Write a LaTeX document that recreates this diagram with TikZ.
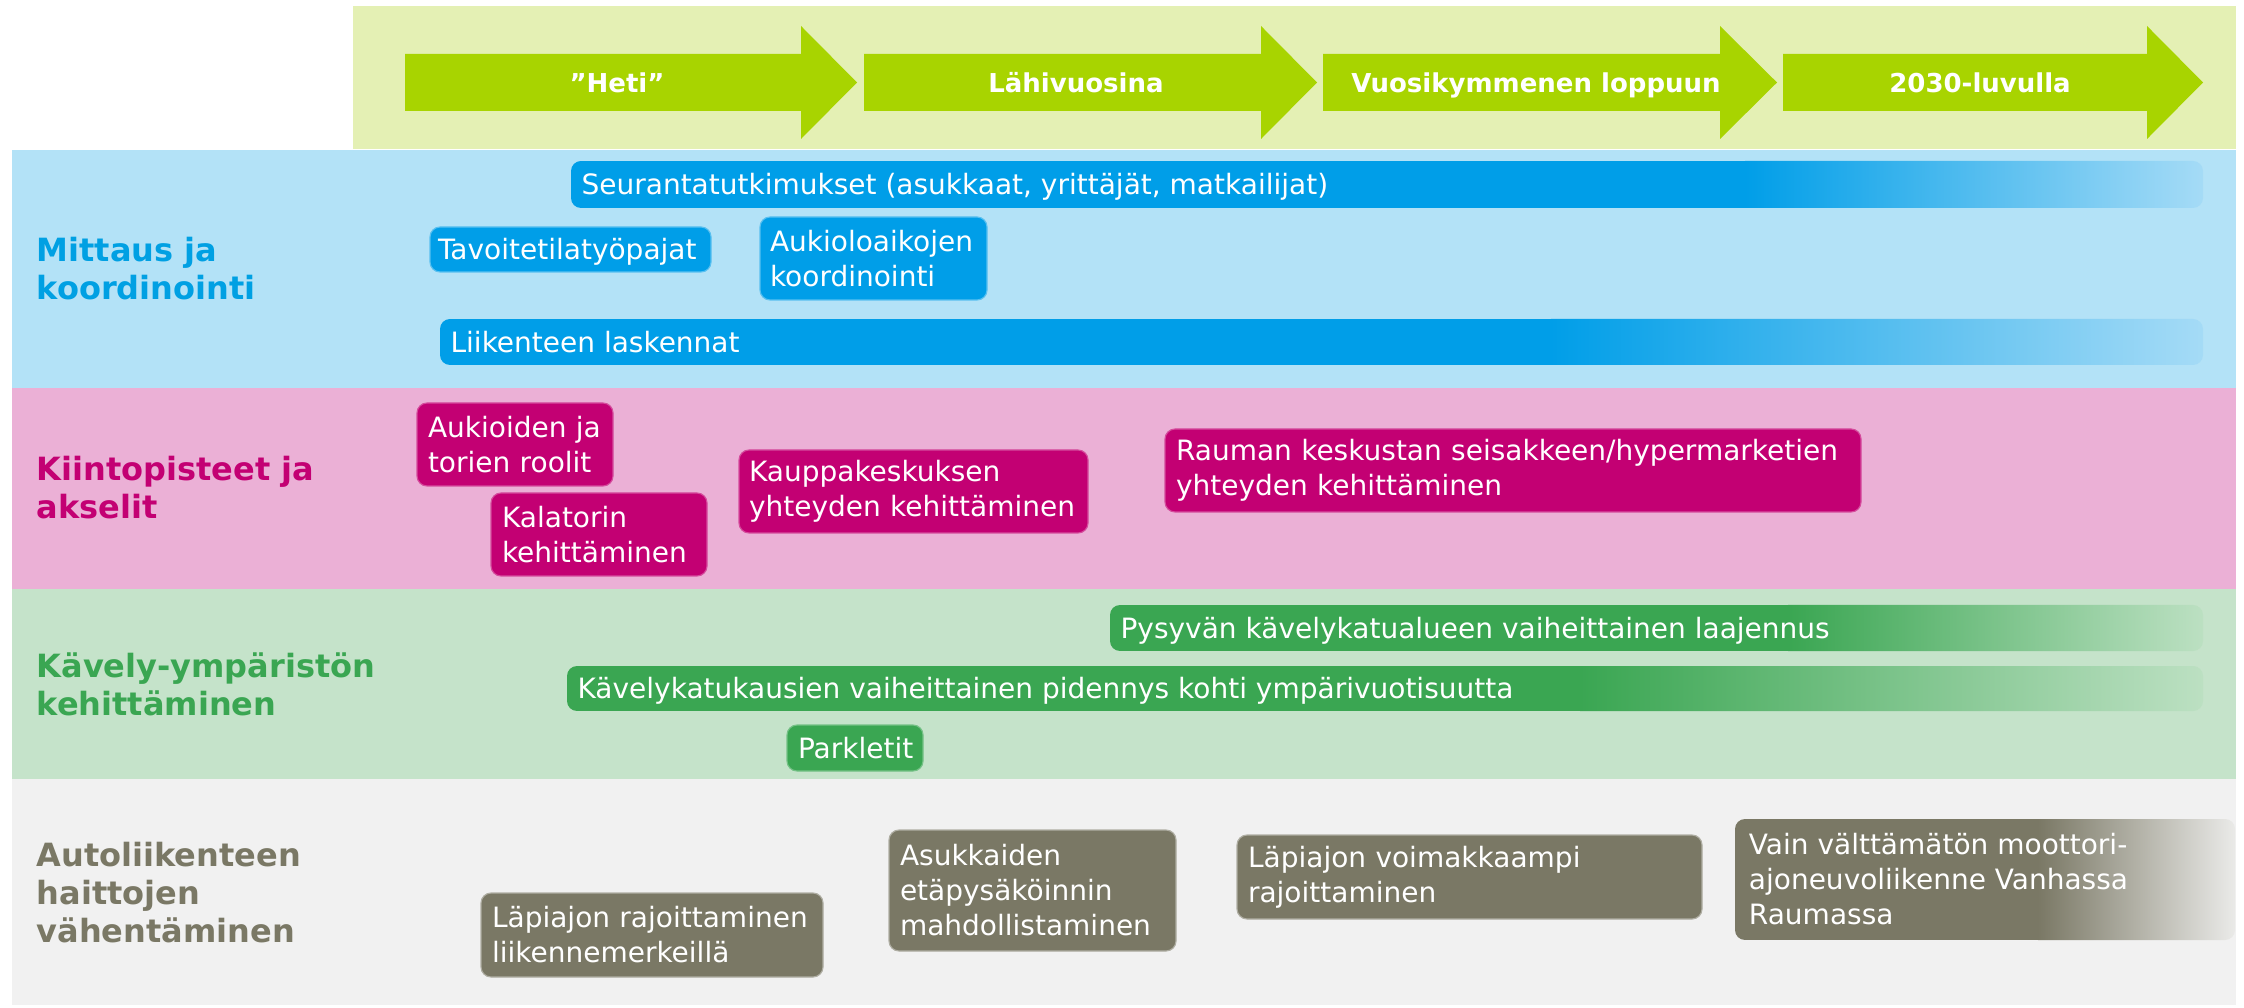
\documentclass[tikz,border=0pt]{standalone}
\usepackage{fontspec}
\setmainfont{DejaVu Sans}
\hyphenpenalty=10000
\exhyphenpenalty=10000
\definecolor{bandtop}{RGB}{228,240,180}
\definecolor{arrowgreen}{RGB}{168,212,0}
\definecolor{bandblue}{RGB}{179,226,247}
\definecolor{bandpink}{RGB}{235,176,214}
\definecolor{bandgreen}{RGB}{197,227,202}
\definecolor{bandgray}{RGB}{241,241,241}
\definecolor{cblue}{RGB}{0,158,232}
\definecolor{cpink}{RGB}{195,0,115}
\definecolor{cgreen}{RGB}{58,166,82}
\definecolor{cgray}{RGB}{122,120,101}
\definecolor{lblblue}{RGB}{0,160,227}
\definecolor{blueend}{RGB}{165,219,246}
\definecolor{greenend}{RGB}{188,224,194}
\definecolor{grayend}{RGB}{234,234,232}
\begin{document}
\begin{tikzpicture}[x=0.3pt,y=-0.3pt,
  boxtxt/.style={font=\fontsize{8.4}{10.5}\selectfont, text=white, align=left,
    inner xsep=3.3pt, inner ysep=0pt, rounded corners=3pt, line width=0.35pt},
  oneline/.style={text height=8pt, text depth=1.9pt},
  bluebox/.style={boxtxt, fill=cblue, draw=cblue!65!white},
  pinkbox/.style={boxtxt, fill=cpink, draw=cpink!70!white},
  greenbox/.style={boxtxt, fill=cgreen, draw=cgreen!70!white},
  graybox/.style={boxtxt, fill=cgray, draw=cgray!60!white},
  lbl/.style={font=\fontsize{9.6}{11.4}\selectfont\bfseries, align=left,
    anchor=west, inner sep=0pt},
  arrtxt/.style={font=\fontsize{7.8}{9.4}\selectfont\bfseries, text=white, inner sep=0pt,
    text height=7.5pt, text depth=1.8pt},
  arrowshape/.style={fill=arrowgreen},
]
\useasboundingbox (0,0) rectangle (2244,1008);
\fill[white] (0,0) rectangle (2244,1008);
% bands
\fill[bandtop] (353,6) rectangle (2236,149);
\fill[bandblue] (12,150) rectangle (2236,388);
\fill[bandpink] (12,388) rectangle (2236,589);
\fill[bandgreen] (12,589) rectangle (2236,779);
\fill[bandgray] (12,779) rectangle (2236,1005);
% timeline arrows
\fill[arrowshape] (405,54) -- (801,54) -- (801,26) -- (857,82.5) -- (801,139) -- (801,111) -- (405,111) -- cycle;
\fill[arrowshape] (864,54) -- (1261,54) -- (1261,26) -- (1317,82.5) -- (1261,139) -- (1261,111) -- (864,111) -- cycle;
\fill[arrowshape] (1323,54) -- (1720,54) -- (1720,26) -- (1777,82.5) -- (1720,139) -- (1720,111) -- (1323,111) -- cycle;
\fill[arrowshape] (1783,54) -- (2147,54) -- (2147,26) -- (2203,82.5) -- (2147,139) -- (2147,111) -- (1783,111) -- cycle;
\node[arrtxt] (heti) at (617,83) {”Heti”};
\node[arrtxt] (lahi) at (1076,83) {Lähivuosina};
\node[arrtxt] (vuosi) at (1536,83) {Vuosikymmenen loppuun};
\node[arrtxt] (luku) at (1980,83) {2030-luvulla};
% row labels
\node[lbl, text=lblblue] (mit) at (36,269) {Mittaus ja\\koordinointi};
\node[lbl, text=cpink] (kiin) at (36,488) {Kiintopisteet ja\\akselit};
\node[lbl, text=cgreen] (kav) at (36,684) {Kävely-ympäristön\\kehittäminen};
\node[lbl, text=cgray] (auto) at (36,893) {Autoliikenteen\\haittojen\\vähentäminen};
% --- blue row
\begin{scope}
  \clip[rounded corners=3pt] (571,161) rectangle (2203,208);
  \fill[cblue] (571,161) rectangle (1745,208);
  \shade[left color=cblue, right color=blueend] (1745,161) rectangle (2203,208);
\end{scope}
\node[boxtxt, oneline, anchor=west, inner xsep=3pt] (seur) at (571,184.5) {Seurantatutkimukset (asukkaat, yrittäjät, matkailijat)};
\node[bluebox, oneline, inner xsep=2.4pt, text width=79.5pt, minimum height=13.5pt] (tav) at (570.5,249.5) {Tavoitetilatyöpajat};
\node[bluebox, inner xsep=3pt, text width=62.1pt, minimum height=24.9pt] (aukl) at (873.5,258.5) {Aukioloaikojen\\koordinointi};
\begin{scope}
  \clip[rounded corners=3pt] (440,319) rectangle (2203,365);
  \fill[cblue] (440,319) rectangle (1551,365);
  \shade[left color=cblue, right color=blueend] (1551,319) rectangle (2203,365);
\end{scope}
\node[boxtxt, oneline, anchor=west, inner xsep=3pt] (liik) at (440,342) {Liikenteen laskennat};
% --- pink row
\node[pinkbox, text width=52.2pt, minimum height=24.9pt] (aukt) at (515,444.5) {Aukioiden ja\\torien roolit};
\node[pinkbox, text width=58.2pt, minimum height=24.9pt] (kala) at (599,534.5) {Kalatorin\\kehittäminen};
\node[pinkbox, inner xsep=3pt, text width=98.7pt, minimum height=24.9pt] (kaup) at (913.5,491.5) {Kauppakeskuksen\\yhteyden kehittäminen};
\node[pinkbox, text width=202.2pt, minimum height=24.9pt] (raum) at (1513,470.5) {Rauman keskustan seisakkeen/hypermarketien\\yhteyden kehittäminen};
% --- green row
\begin{scope}
  \clip[rounded corners=3pt] (1110,605) rectangle (2203,651);
  \fill[cgreen] (1110,605) rectangle (1788,651);
  \shade[left color=cgreen, right color=greenend] (1788,605) rectangle (2203,651);
\end{scope}
\node[boxtxt, oneline, anchor=west, inner xsep=3pt] (pysy) at (1110,628) {Pysyvän kävelykatualueen vaiheittainen laajennus};
\begin{scope}
  \clip[rounded corners=3pt] (567,666) rectangle (2203,711);
  \fill[cgreen] (567,666) rectangle (1580,711);
  \shade[left color=cgreen, right color=greenend] (1580,666) rectangle (2203,711);
\end{scope}
\node[boxtxt, oneline, anchor=west, inner xsep=3pt] (kaus) at (567,688.5) {Kävelykatukausien vaiheittainen pidennys kohti ympärivuotisuutta};
\node[greenbox, oneline, text width=34.2pt, minimum height=13.8pt] (park) at (855,748) {Parkletit};
% --- gray row
\node[graybox, text width=96pt, minimum height=25.2pt] (lap1) at (652,935) {Läpiajon rajoittaminen\\liikennemerkeillä};
\node[graybox, text width=79.5pt, minimum height=36.3pt] (asuk) at (1032.5,890.5) {Asukkaiden\\etäpysäköinnin\\mahdollistaminen};
\node[graybox, text width=132.9pt, minimum height=25.2pt] (lap2) at (1469.5,877) {Läpiajon voimakkaampi\\rajoittaminen};
\begin{scope}
  \clip[rounded corners=3pt] (1735,819) rectangle (2235,940);
  \fill[cgray] (1735,819) rectangle (2038,940);
  \shade[left color=cgray, right color=grayend] (2038,819) rectangle (2235,940);
\end{scope}
\node[boxtxt, anchor=west, inner xsep=4pt] (vain) at (1735,879.5) {Vain välttämätön moottori-\\ajoneuvoliikenne Vanhassa\\Raumassa};
\end{tikzpicture}
\end{document}
